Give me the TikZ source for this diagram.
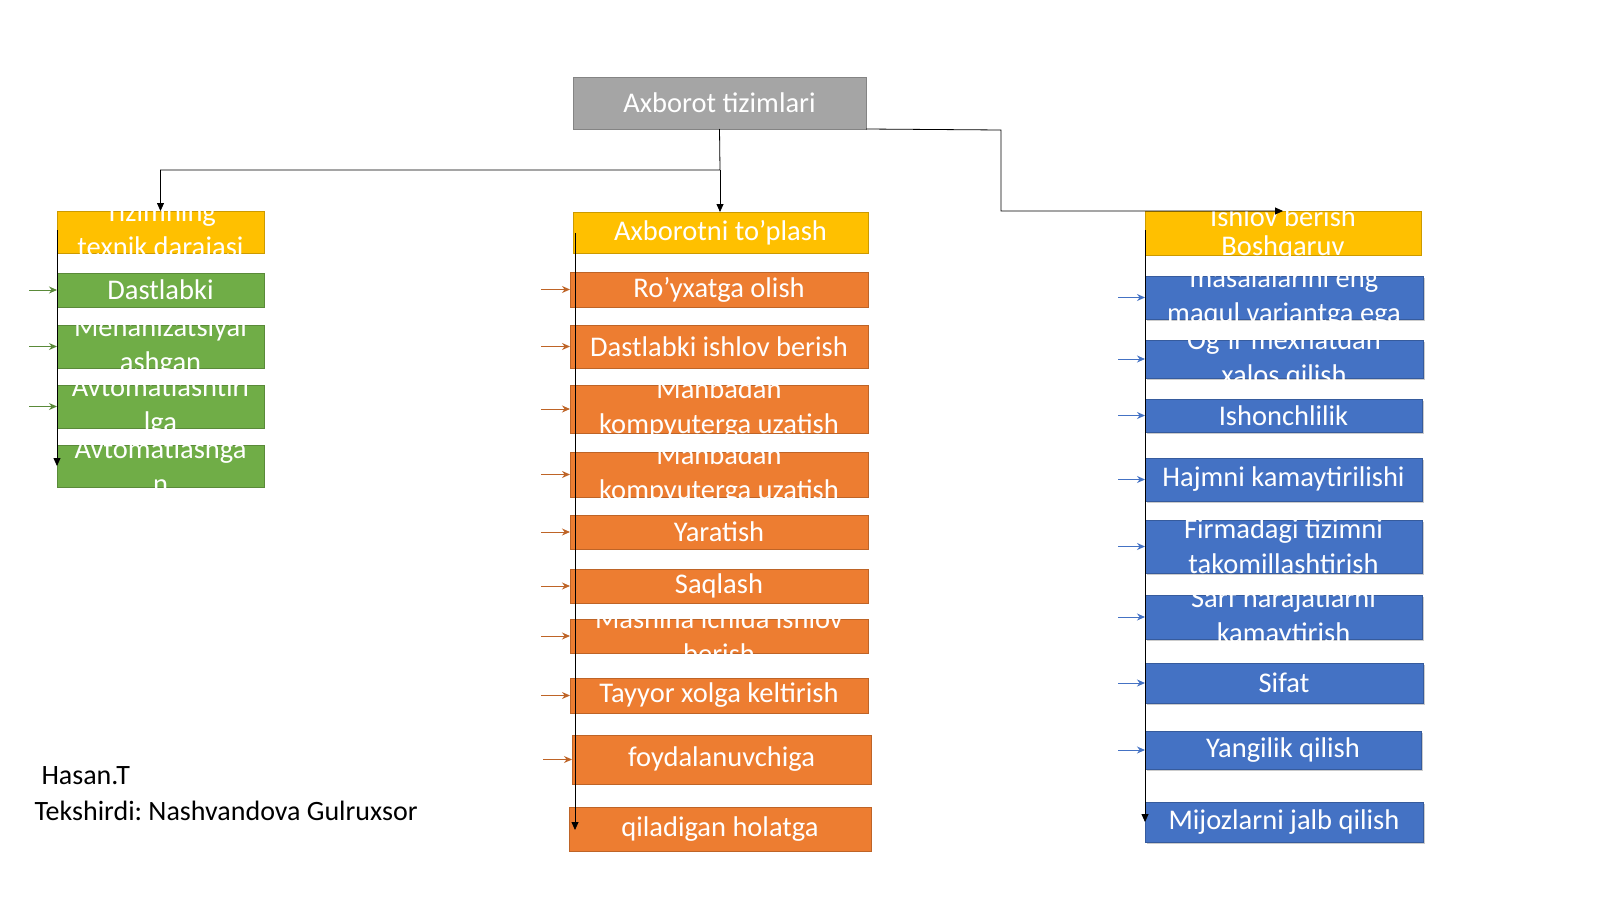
\documentclass[tikz,border=0pt]{standalone}
\usepackage{fontspec}
\setmainfont{Carlito}
\frenchspacing
\usetikzlibrary{positioning,arrows.meta,shadows}
\definecolor{grayb}{HTML}{A5A5A5}
\definecolor{yellowb}{HTML}{FFC000}
\definecolor{greenb}{HTML}{70AD47}
\definecolor{orangeb}{HTML}{ED7D31}
\definecolor{blueb}{HTML}{4472C4}
\tikzset{
  box/.style={anchor=north west, inner sep=0pt, outer sep=0pt, line width=1pt},
  txt/.style={text=white, align=center, font=\fontsize{28.5}{35}\selectfont},
  link/.style={-{Triangle[length=8pt,width=7pt]}, line width=0.8pt},
  feed/.style={-{Stealth[length=8pt,width=7pt]}, line width=1pt}
}
\newcommand{\boxat}[7]{% name, x1, y1, x2, y2, colour, text
  \node[box, draw=#6!80!black, fill=#6, minimum width=#4pt-#2pt, minimum height=#5pt-#3pt] (#1) at (#2,#3) {};
  \node[txt] at (#1.center) {#7};}
\begin{document}
\begin{tikzpicture}[x=1pt,y=-1pt]
  % top
  \boxat{top}{573}{77}{866}{129}{grayb}{Axborot tizimlari}
  \boxat{lefthead}{57}{211}{264}{253}{yellowb}{Tizimning\\texnik darajasi}
  \boxat{midhead}{573}{212}{868}{253}{yellowb}{Axborotni to’plash}
  \boxat{righthead}{1145}{211}{1421}{255}{yellowb}{Ishlov berish\\[-6pt]Boshqaruv}

  % left column
  \boxat{g1}{57}{273}{264}{307}{greenb}{Dastlabki}
  \boxat{g2}{57}{325}{264}{368}{greenb}{Mehanizatsiyal\\ashgan}
  \boxat{g3}{57}{385}{264}{428}{greenb}{Avtomatlashtiri\\lga}
  \boxat{g4}{57}{445}{264}{487}{greenb}{Avtomatlashga\\n}

  % middle column
  \boxat{o1}{570}{272}{868}{307}{orangeb}{Ro’yxatga olish}
  \boxat{o2}{570}{325}{868}{368}{orangeb}{Dastlabki ishlov berish}
  \boxat{o3}{570}{385}{868}{433}{orangeb}{Manbadan\\kompyuterga uzatish}
  \boxat{o4}{570}{452}{868}{497}{orangeb}{Manbadan\\kompyuterga uzatish}
  \boxat{o5}{570}{515}{868}{549}{orangeb}{Yaratish}
  \boxat{o6}{570}{569}{868}{603}{orangeb}{Saqlash}
  \boxat{o7}{570}{619}{868}{653}{orangeb}{Mashina ichida ishlov\\berish}
  \boxat{o8}{570}{678}{868}{713}{orangeb}{Tayyor xolga keltirish}
  \boxat{o9}{572}{735}{871}{784}{orangeb}{foydalanuvchiga}
  \boxat{o10}{569}{807}{871}{851}{orangeb}{qiladigan holatga}

  % right column
  \begin{scope}[box/.append style={drop shadow={shadow xshift=2pt,shadow yshift=-2pt,opacity=0.4}}]
  \boxat{b1}{1145}{276}{1423}{319}{blueb}{masalalarini eng\\maqul variantga ega}
  \boxat{b2}{1145}{340}{1423}{378}{blueb}{Og’ir mexnatdan\\xalos qilish}
  \boxat{b3}{1145}{399}{1422}{432}{blueb}{Ishonchlilik}
  \boxat{b4}{1145}{458}{1422}{501}{blueb}{Hajmni kamaytirilishi}
  \boxat{b5}{1145}{520}{1422}{573}{blueb}{Firmadagi tizimni\\takomillashtirish}
  \boxat{b6}{1145}{595}{1422}{639}{blueb}{Sarf harajatlarni\\kamaytirish}
  \boxat{b7}{1145}{663}{1423}{703}{blueb}{Sifat}
  \boxat{b8}{1145}{731}{1421}{769}{blueb}{Yangilik qilish}
  \boxat{b9}{1145}{802}{1423}{842}{blueb}{Mijozlarni jalb qilish}
  \end{scope}

  % connectors from the top
  \coordinate (split) at (720,170);
  \draw[link] (top.south) -- (split) -| (lefthead.north);
  \draw[link] (split) -- (720,212);
  \coordinate (bend) at (1001,130);
  \draw[link] (top.south east) -- (bend) -- (1001,211) -- (1283,211);

  % column spines
  \draw[link] (57,230) -- (57,466);
  \draw[link] (575,233) -- (575,830);
  \draw[link] (1145,230) -- (1145,822);

  % side arrows
  \foreach \n in {g1,g2,g3}
    \draw[feed, greenb!80!black] ([xshift=-28pt]\n.west) -- (\n.west);
  \foreach \n in {o1,o2,o3,o4,o5,o6,o7,o8,o9}
    \draw[feed, orangeb!80!black] ([xshift=-29pt]\n.west) -- (\n.west);
  \foreach \n in {b1,b2,b3,b4,b5,b6,b7,b8}
    \draw[feed, blueb] ([xshift=-27pt]\n.west) -- (\n.west);

  % footer
  \node[anchor=west, font=\fontsize{28}{35}\selectfont] (author) at (38,776) {Hasan.T};
  \node[anchor=west, font=\fontsize{28}{35}\selectfont] (checker) at (31,811) {Tekshirdi: Nashvandova Gulruxsor};

  \pgfresetboundingbox
  \useasboundingbox (0,0) rectangle (1600,899);
\end{tikzpicture}
\end{document}
